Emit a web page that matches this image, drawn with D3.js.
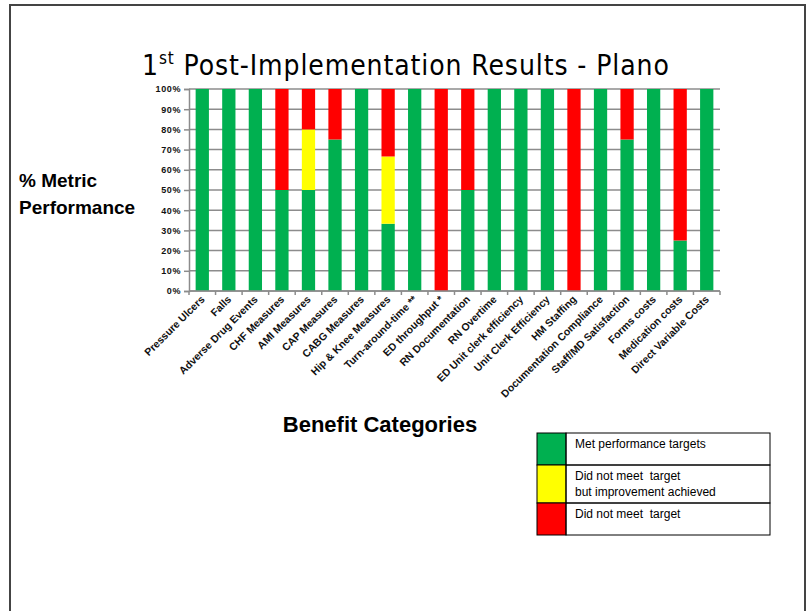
<!DOCTYPE html>
<html>
<head>
<meta charset="utf-8">
<script src="https://cdn.jsdelivr.net/npm/d3@7"></script>
<style>
  body { margin: 0; background: #fff; }
  svg { display: block; }
</style>
</head>
<body>
<svg id="chart" width="810" height="611"></svg>
<script>
// chart values
const categories = [
    "Pressure Ulcers", "Falls", "Adverse Drug Events", "CHF Measures",
    "AMI Measures", "CAP Measures", "CABG Measures", "Hip & Knee Measures",
    "Turn-around-time **", "ED throughput *", "RN Documentation", "RN Overtime",
    "ED Unit clerk efficiency", "Unit Clerk Efficiency", "HM Staffing",
    "Documentation Compliance", "Staff/MD Satisfaction", "Forms costs",
    "Medication costs", "Direct Variable Costs"
];
const metValues      = [100, 100, 100, 50, 50, 75, 100, 33.3, 100, 0, 50, 100, 100, 100, 0, 100, 75, 100, 25, 100];
const improvedValues = [0, 0, 0, 0, 30, 0, 0, 33.3, 0, 0, 0, 0, 0, 0, 0, 0, 0, 0, 0, 0];
const notMetValues   = [0, 0, 0, 50, 20, 25, 0, 33.4, 0, 100, 50, 0, 0, 0, 100, 0, 25, 0, 75, 0];
const yTicks = [0, 10, 20, 30, 40, 50, 60, 70, 80, 90, 100];

const seriesKeys = ["met", "improved", "notMet"];
const legendLabels = [
    ["Met performance targets"],
    ["Did not meet  target", "but improvement achieved"],
    ["Did not meet  target"]
];
const seriesColor = d3.scaleOrdinal()
    .domain(seriesKeys)
    .range(["#00b050", "#ffff00", "#ff0000"]);

const svg = d3.select("#chart");

const marginLeft = 189;
const marginRight = 720;
const marginTop = 89;
const marginBottom = 291;

// slide frame
svg.append("rect")
    .attr("x", 10).attr("y", 5)
    .attr("width", 795).attr("height", 640)
    .attr("fill", "none")
    .attr("stroke", "#444")
    .attr("stroke-width", 2);

// title
const title = svg.append("text")
    .attr("x", 142).attr("y", 75)
    .attr("font-family", "DejaVu Sans Condensed, DejaVu Sans, sans-serif")
    .attr("font-size", 28)
    .attr("letter-spacing", 0.9)
    .attr("fill", "#000");
title.append("tspan").text("1");
title.append("tspan").text("st").attr("font-size", 17).attr("dy", -11);
title.append("tspan").text(" Post-Implementation Results - Plano").attr("dy", 11);

const records = categories.map((c, i) => ({
    category: c,
    met: metValues[i],
    improved: improvedValues[i],
    notMet: notMetValues[i]
}));

const stacked = d3.stack().keys(seriesKeys)(records);

const xscale = d3.scaleBand()
    .domain(categories)
    .range([marginLeft, marginRight])
    .paddingInner(0.5)
    .paddingOuter(0.25);

const yscale = d3.scaleLinear()
    .domain([0, 100])
    .range([marginBottom, marginTop]);

// gridlines
svg.append("g")
    .selectAll("line")
    .data(yTicks)
    .join("line")
    .attr("x1", marginLeft).attr("x2", marginRight)
    .attr("y1", d => yscale(d)).attr("y2", d => yscale(d))
    .attr("stroke", "#8c8c8c")
    .attr("stroke-width", 1.5);

// bars
svg.append("g")
    .selectAll("g")
    .data(stacked)
    .join("g")
    .attr("fill", d => seriesColor(d.key))
    .selectAll("rect")
    .data(d => d)
    .join("rect")
    .attr("x", d => xscale(d.data.category))
    .attr("width", xscale.bandwidth())
    .attr("y", d => yscale(d[1]))
    .attr("height", d => yscale(d[0]) - yscale(d[1]));

// y axis
const yAxis = d3.axisLeft(yscale)
    .tickValues(yTicks)
    .tickFormat(d => d + "%")
    .tickSize(5)
    .tickPadding(3);

const yg = svg.append("g")
    .attr("transform", `translate(${[marginLeft, 0]})`)
    .call(yAxis);
yg.select(".domain").attr("stroke", "#8c8c8c").attr("stroke-width", 1.5);
yg.selectAll(".tick line").attr("stroke", "#8c8c8c").attr("stroke-width", 1.5);
yg.selectAll(".tick text")
    .attr("font-family", "Liberation Sans, Arial, sans-serif")
    .attr("font-weight", "bold")
    .attr("font-size", 9)
    .attr("letter-spacing", 0.6)
    .attr("fill", "#111");

// x axis: ticks sit on the category boundaries
const boundaries = d3.range(categories.length + 1).map(i => marginLeft + i * (marginRight - marginLeft) / categories.length);
const xg = svg.append("g");
xg.append("line")
    .attr("x1", marginLeft).attr("x2", marginRight)
    .attr("y1", marginBottom).attr("y2", marginBottom)
    .attr("stroke", "#8c8c8c")
    .attr("stroke-width", 1.5);
xg.selectAll(".btick")
    .data(boundaries)
    .join("line")
    .attr("class", "btick")
    .attr("x1", d => d).attr("x2", d => d)
    .attr("y1", marginBottom).attr("y2", marginBottom + 4)
    .attr("stroke", "#8c8c8c")
    .attr("stroke-width", 1.5);

xg.selectAll("text")
    .data(categories)
    .join("text")
    .attr("transform", d => `translate(${[xscale(d) + xscale.bandwidth() / 2 + 3, marginBottom + 9]}) rotate(-45)`)
    .attr("text-anchor", "end")
    .attr("font-family", "Liberation Sans, Arial, sans-serif")
    .attr("font-weight", "bold")
    .attr("font-size", 10.5)
    .attr("fill", "#111")
    .text(d => d);

// axis titles
const ylab = svg.append("text")
    .attr("x", 19).attr("y", 187)
    .attr("font-family", "Liberation Sans, Arial, sans-serif")
    .attr("font-weight", "bold")
    .attr("font-size", 19)
    .attr("fill", "#000");
ylab.append("tspan").attr("x", 19).text("% Metric");
ylab.append("tspan").attr("x", 19).attr("dy", 27).text("Performance");

svg.append("text")
    .attr("x", 380).attr("y", 432)
    .attr("text-anchor", "middle")
    .attr("font-family", "Liberation Sans, Arial, sans-serif")
    .attr("font-weight", "bold")
    .attr("font-size", 22)
    .attr("fill", "#000")
    .text("Benefit Categories");

// legend table
const legendX = 537;
const legendW = 233;
const swatchW = 29;
const rowTops = [433, 465, 503];
const rowBottoms = [465, 503, 535];

const legend = svg.append("g");
const rows = legend.selectAll("g")
    .data(seriesKeys)
    .join("g");
rows.append("rect")
    .attr("x", legendX)
    .attr("y", (d, i) => rowTops[i])
    .attr("width", swatchW)
    .attr("height", (d, i) => rowBottoms[i] - rowTops[i])
    .attr("fill", d => seriesColor(d));
rows.append("rect")
    .attr("x", legendX + swatchW)
    .attr("y", (d, i) => rowTops[i])
    .attr("width", legendW - swatchW)
    .attr("height", (d, i) => rowBottoms[i] - rowTops[i])
    .attr("fill", "none")
    .attr("stroke", "#000")
    .attr("stroke-width", 1);
rows.append("rect")
    .attr("x", legendX)
    .attr("y", (d, i) => rowTops[i])
    .attr("width", swatchW)
    .attr("height", (d, i) => rowBottoms[i] - rowTops[i])
    .attr("fill", "none")
    .attr("stroke", "#000")
    .attr("stroke-width", 1);
rows.append("text")
    .attr("font-family", "Liberation Sans, Arial, sans-serif")
    .attr("font-size", 12)
    .attr("fill", "#000")
    .style("white-space", "pre")
    .selectAll("tspan")
    .data((d, i) => legendLabels[i].map((t, j) => ({t, j, i})))
    .join("tspan")
    .attr("x", legendX + swatchW + 9)
    .attr("y", d => rowTops[d.i] + 15 + d.j * 16)
    .text(d => d.t);
</script>
</body>
</html>
